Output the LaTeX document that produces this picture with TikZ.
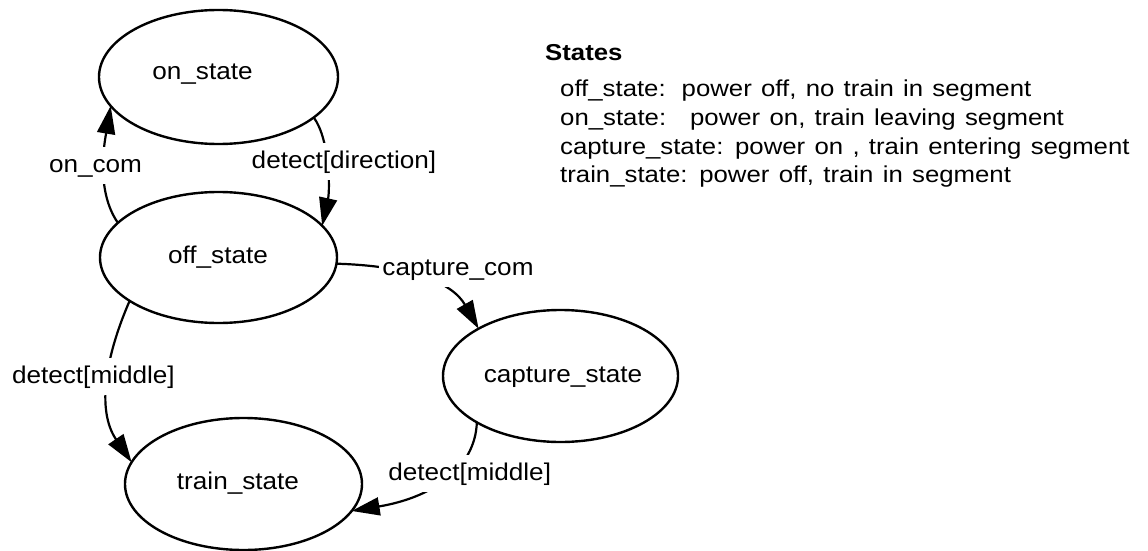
\documentclass[tikz,border=0pt]{standalone}
\usepackage{fontspec}
\setmainfont{Liberation Sans}
\newfontfamily\diagfont{Liberation Sans}[FakeStretch=1.08]
\newfontfamily\legendfont{Liberation Sans}[FakeStretch=1.12,WordSpace=1.3]
\usetikzlibrary{shapes.geometric,arrows.meta}

\tikzset{
  statenode/.style={ellipse, draw, line width=2.4pt, inner sep=0pt, outer sep=0pt},
  statetext/.style={anchor=base, inner sep=0pt, font=\diagfont\fontsize{24.2}{28}\selectfont},
  trans/.style={line width=2.2pt, -{Triangle[length=28pt,width=18pt]}},
  translabel/.style={anchor=base, fill=white, inner xsep=3pt, inner ysep=1pt,
    text height=24pt, text depth=11pt, font=\diagfont\fontsize{24.2}{28}\selectfont},
  legendhead/.style={anchor=base west, inner sep=0pt, font=\legendfont\bfseries\fontsize{23}{27}\selectfont},
  legendline/.style={anchor=base west, inner sep=0pt, font=\legendfont\fontsize{23}{27}\selectfont},
}

\begin{document}
\begin{tikzpicture}[x=1pt, y=-1pt]
\useasboundingbox (0,0) rectangle (1148,551);

% states
\node[statenode, minimum width=239pt, minimum height=134pt] (on) at (218.5,77) {};
\node[statenode, minimum width=237pt, minimum height=131pt] (off) at (218.5,257.5) {};
\node[statenode, minimum width=235pt, minimum height=132pt] (capture) at (560.5,376) {};
\node[statenode, minimum width=237pt, minimum height=132pt] (train) at (243.5,484) {};

\node[statetext] (on-name) at (202.5,79) {on\_state};
\node[statetext] (off-name) at (218,263) {off\_state};
\node[statetext] (capture-name) at (563,382) {capture\_state};
\node[statetext] (train-name) at (238,489) {train\_state};

% transitions
\draw[trans] (off.161.6) .. controls (95,190) and (105,140) .. (on.195.9);
\draw[trans] (on.337.5) .. controls (330,140) and (330,190) .. (off.17.9);
\draw[trans] (off.357.8) .. controls (410,266) and (452,282) .. (capture.150.7);
\draw[trans] (off.206.7) .. controls (106,355) and (96,410) .. (train.169.7);
\draw[trans] (capture.209.4) .. controls (475,470) and (430,498) .. (train.346.8);

% transition labels
\node[translabel] (l-oncom) at (95.5,172) {on\_com};
\node[translabel] (l-direction) at (344,168) {detect[direction]};
\node[translabel] (l-capcom) at (458,275) {capture\_com};
\node[translabel] (l-middle-a) at (93.4,383) {detect[middle]};
\node[translabel] (l-middle-b) at (469.7,480) {detect[middle]};

% legend
\node[legendhead] (leg-title) at (545,60) {States};
\node[legendline] (leg-off) at (560,96.7) {off\_state:\hspace{16pt}power off, no train in segment};
\node[legendline] (leg-on) at (560,125.3) {on\_state:\hspace{24pt}power on, train leaving segment};
\node[legendline] (leg-capture) at (560,154) {capture\_state: power on , train entering segment};
\node[legendline] (leg-train) at (560,182.9) {train\_state: power off, train in segment};
\end{tikzpicture}
\end{document}
